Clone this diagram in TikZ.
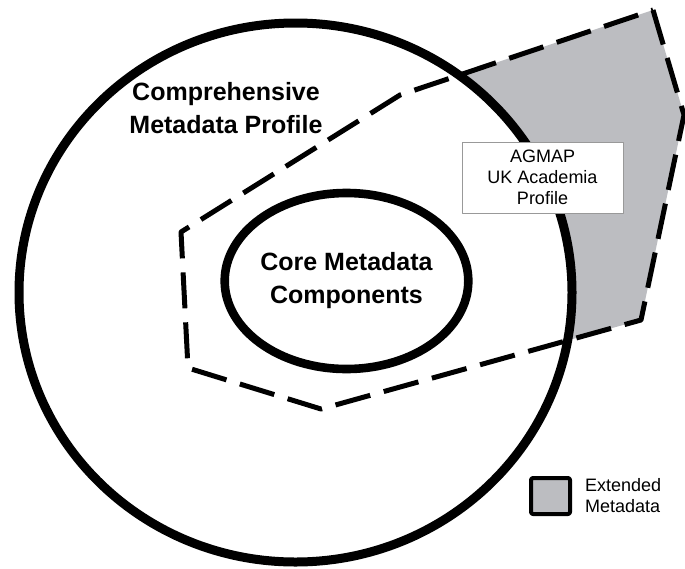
\documentclass[tikz,border=0pt]{standalone}
\usepackage{fontspec}
\setmainfont{Liberation Sans}
\usepackage{tikz}
\usetikzlibrary{shapes.geometric,positioning}
\definecolor{extgray}{RGB}{188,189,193}

\begin{document}
\begin{tikzpicture}[x=0.5pt,y=-0.5pt,line join=round]
	\tikzstyle{ring}=[ellipse,draw=black,line width=4.5pt,inner sep=0pt]
	\tikzstyle{bigtext}=[font=\bfseries\fontsize{12.5}{16.5}\selectfont,align=center]
	\tikzstyle{smalltext}=[font=\fontsize{9}{10.5}\selectfont]
	\tikzstyle{boundary}=[draw=black,line width=2.5pt,dash pattern=on 18pt off 7pt]
	
	\useasboundingbox (0,0) rectangle (685,568);
	
	% extended metadata (part of the profile outside the ring)
	\fill[extgray] (653,10) -- (684,115) -- (641,320) -- (321,409) -- (188,368) -- (181,232) -- (400,95) -- cycle;
	
	\node[ring,fill=white,minimum width=276.5pt,minimum height=269.5pt] (comp) at (295.5,292.5) {};
	\node[bigtext]       (compl) at (226,108) {Comprehensive\\Metadata Profile};
	
	\draw[boundary] (653,10) -- (684,115) -- (641,320) -- (321,409) -- (188,368) -- (181,232) -- (400,95) -- cycle;
	
	\node[ring,line width=4.3pt,minimum width=119.5pt,minimum height=88pt,bigtext] (core) at (346.5,281) {Core Metadata\\Components};
	
	\node[smalltext,draw=gray!80,line width=0.5pt,fill=white,align=center,
		minimum width=80.5pt,minimum height=35.5pt] (agmap) at (542.5,177.5) {AGMAP\\UK Academia\\Profile};
	
	% legend
	\node[draw=black,line width=2pt,fill=extgray,rounded corners=1pt,
		minimum width=19.5pt,minimum height=18pt] (key) at (550.5,496) {};
	\node[smalltext,align=left,right=3pt of key] (keyl) {Extended\\Metadata};
\end{tikzpicture}
\end{document}
